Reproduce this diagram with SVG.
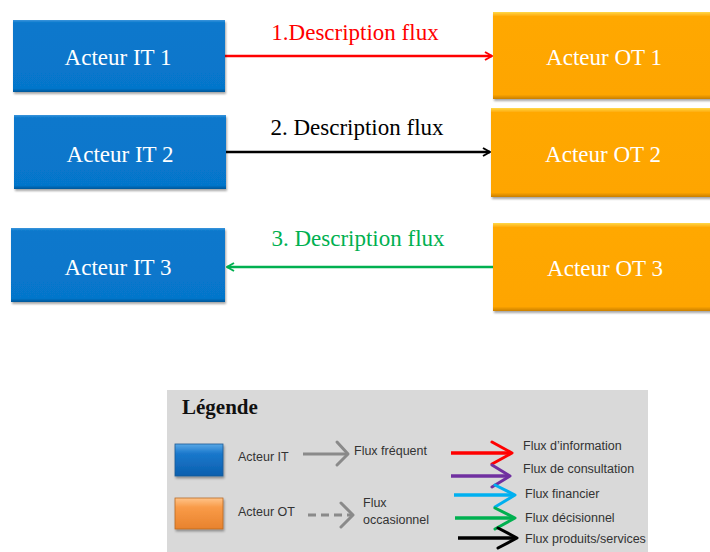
<svg xmlns="http://www.w3.org/2000/svg" width="710" height="552" viewBox="0 0 710 552">
<style>
.node-text{font-family:"Liberation Serif","Times New Roman",serif;font-size:23px;fill:#ffffff;text-anchor:middle}
.flow-label{font-family:"Liberation Serif","Times New Roman",serif;font-size:23px;text-anchor:middle}
.leg{font-family:"Liberation Sans",Arial,sans-serif;font-size:12.5px;fill:#333333}
.chev{fill:none;stroke-width:3;stroke-linecap:round;stroke-linejoin:round}
</style>
<defs>
<linearGradient id="gBlue" x1="0" y1="0" x2="0" y2="1">
<stop offset="0" stop-color="#3a95dc"/>
<stop offset="0.04" stop-color="#0a78cc"/>
<stop offset="0.95" stop-color="#0676cb"/>
<stop offset="1" stop-color="#05579a"/>
</linearGradient>
<linearGradient id="gOrange" x1="0" y1="0" x2="0" y2="1">
<stop offset="0" stop-color="#ffd84a"/>
<stop offset="0.05" stop-color="#ffa805"/>
<stop offset="0.95" stop-color="#fea500"/>
<stop offset="1" stop-color="#c97f00"/>
</linearGradient>
<linearGradient id="gLegBlue" x1="0" y1="0" x2="0" y2="1">
<stop offset="0" stop-color="#5aa8e6"/>
<stop offset="0.3" stop-color="#1a78cc"/>
<stop offset="1" stop-color="#0b5fae"/>
</linearGradient>
<linearGradient id="gLegOrange" x1="0" y1="0" x2="0" y2="1">
<stop offset="0" stop-color="#ffc48a"/>
<stop offset="0.3" stop-color="#f99b48"/>
<stop offset="1" stop-color="#e8822d"/>
</linearGradient>
<filter id="shadow" x="-5%" y="-10%" width="115%" height="130%">
<feDropShadow dx="1" dy="2" stdDeviation="1.2" flood-color="#000000" flood-opacity="0.35"/>
</filter>
<marker id="aRed" viewBox="0 0 10 10" refX="9" refY="5" markerWidth="10" markerHeight="10" markerUnits="userSpaceOnUse" orient="auto">
<path d="M2,1 L9,5 L2,9" fill="none" stroke="#ff0000" stroke-width="2"/>
</marker>
<marker id="aBlack" viewBox="0 0 10 10" refX="9" refY="5" markerWidth="10" markerHeight="10" markerUnits="userSpaceOnUse" orient="auto">
<path d="M2,1 L9,5 L2,9" fill="none" stroke="#000000" stroke-width="2"/>
</marker>
<marker id="aGreen" viewBox="0 0 10 10" refX="9" refY="5" markerWidth="10" markerHeight="10" markerUnits="userSpaceOnUse" orient="auto">
<path d="M2,1 L9,5 L2,9" fill="none" stroke="#00b050" stroke-width="2"/>
</marker>
</defs>
<rect width="710" height="552" fill="#ffffff"/>

<g id="connectors">
<line x1="225" y1="56" x2="492" y2="56" stroke="#ff0000" stroke-width="2.5" marker-end="url(#aRed)"/>
<text class="flow-label" x="355" y="40" fill="#ff0000">1.Description flux</text>
<line x1="226" y1="152" x2="490" y2="152" stroke="#000000" stroke-width="2.5" marker-end="url(#aBlack)"/>
<text class="flow-label" x="357" y="135" fill="#000000">2. Description flux</text>
<line x1="493" y1="267" x2="227" y2="267" stroke="#00b050" stroke-width="2.5" marker-end="url(#aGreen)"/>
<text class="flow-label" x="358" y="246" fill="#00b050">3. Description flux</text>
</g>

<g id="it1"><rect x="13" y="20" width="212" height="72" fill="url(#gBlue)" filter="url(#shadow)"/><text class="node-text" x="118" y="65">Acteur IT 1</text></g>
<g id="ot1"><rect x="493" y="12" width="220" height="87" fill="url(#gOrange)" filter="url(#shadow)"/><text class="node-text" x="604" y="65">Acteur OT 1</text></g>
<g id="it2"><rect x="14" y="115" width="212" height="74" fill="url(#gBlue)" filter="url(#shadow)"/><text class="node-text" x="120" y="162">Acteur IT 2</text></g>
<g id="ot2"><rect x="491" y="108" width="222" height="89" fill="url(#gOrange)" filter="url(#shadow)"/><text class="node-text" x="603" y="162">Acteur OT 2</text></g>
<g id="it3"><rect x="11" y="228" width="214" height="74" fill="url(#gBlue)" filter="url(#shadow)"/><text class="node-text" x="118" y="275">Acteur IT 3</text></g>
<g id="ot3"><rect x="493" y="223" width="220" height="88" fill="url(#gOrange)" filter="url(#shadow)"/><text class="node-text" x="605" y="276">Acteur OT 3</text></g>

<g id="legend">
<rect x="167" y="390" width="481" height="165" fill="#d9d9d9"/>
<text x="182" y="414" font-family="'Liberation Serif','Times New Roman',serif" font-size="21" font-weight="bold" fill="#111111">Légende</text>
<rect x="175" y="444" width="48" height="32" fill="url(#gLegBlue)" stroke="#1b5a94" stroke-width="0.8" filter="url(#shadow)"/>
<rect x="175" y="498" width="48" height="31" fill="url(#gLegOrange)" stroke="#b96a22" stroke-width="0.8" filter="url(#shadow)"/>
<text class="leg" x="238" y="461">Acteur IT</text>
<text class="leg" x="238" y="516">Acteur OT</text>
<line x1="303" y1="454" x2="347" y2="454" stroke="#8a8a8a" stroke-width="3"/>
<polyline class="chev" points="337,442 348,454 337,465" stroke="#8a8a8a"/>
<text class="leg" x="354" y="455">Flux fréquent</text>
<line x1="308" y1="515" x2="351" y2="515" stroke="#8a8a8a" stroke-width="3" stroke-dasharray="8,5"/>
<polyline class="chev" points="341,503 353,515 341,527" stroke="#8a8a8a"/>
<text class="leg" x="363" y="507">Flux</text>
<text class="leg" x="363" y="524">occasionnel</text>

<line x1="451" y1="453" x2="511" y2="453" stroke="#ff0000" stroke-width="3.5"/>
<polyline class="chev" points="492,442 512,453 492,464" stroke="#ff0000"/>
<line x1="451" y1="476" x2="509" y2="476" stroke="#7030a0" stroke-width="3.5"/>
<polyline class="chev" points="492,465 510,476 492,487" stroke="#7030a0"/>
<line x1="454" y1="495" x2="514" y2="495" stroke="#00b0f0" stroke-width="3.5"/>
<polyline class="chev" points="495,485 515,495 495,507" stroke="#00b0f0"/>
<line x1="455" y1="518" x2="514" y2="518" stroke="#00b050" stroke-width="3.5"/>
<polyline class="chev" points="495,508 515,518 495,529" stroke="#00b050"/>
<line x1="458" y1="538" x2="516" y2="538" stroke="#000000" stroke-width="3.5"/>
<polyline class="chev" points="498,528 517,538 498,548" stroke="#000000"/>
<text class="leg" x="523" y="450">Flux d’information</text>
<text class="leg" x="523" y="473">Flux de consultation</text>
<text class="leg" x="525" y="498">Flux financier</text>
<text class="leg" x="525" y="522">Flux décisionnel</text>
<text class="leg" x="525" y="543">Flux produits/services</text>
</g>
</svg>
